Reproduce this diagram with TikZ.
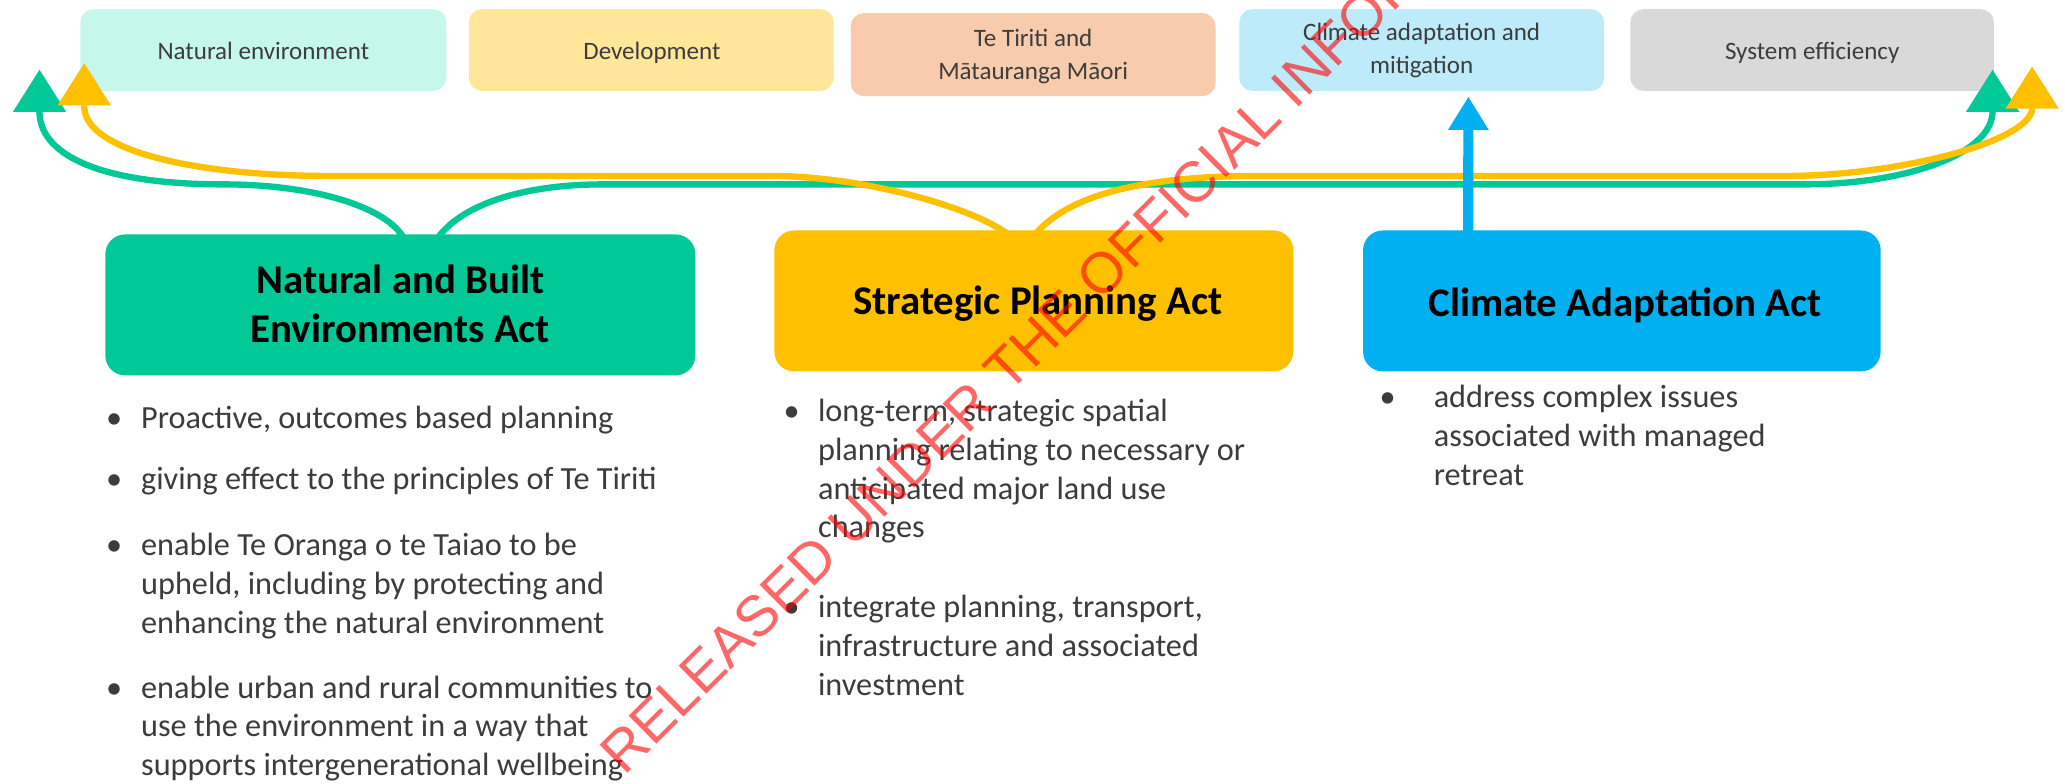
\documentclass[tikz,border=0pt]{standalone}
\usepackage{fontspec}
\setmainfont{Carlito}
\newfontfamily\wmfont{Liberation Sans}
\usetikzlibrary{arrows.meta,calc}
\definecolor{nbegreen}{HTML}{00C896}
\definecolor{spayellow}{HTML}{FFC000}
\definecolor{caablue}{HTML}{00B0F0}
\definecolor{neFill}{HTML}{C5F8EA}
\definecolor{devFill}{HTML}{FFE699}
\definecolor{ttFill}{HTML}{F8CBAD}
\definecolor{clFill}{HTML}{BDEBFA}
\definecolor{seFill}{HTML}{D9D9D9}
\definecolor{txtgray}{HTML}{3C3C3C}
\newcommand\bulitem[2]{\makebox[0pt]{\textbullet}\hspace{#1}\parbox[t]{520pt}{#2}}
\begin{document}
\begin{tikzpicture}[x=1pt,y=-1pt,
  topbox/.style={rounded corners=10pt, inner sep=0pt, minimum height=62pt, minimum width=277pt},
  actbox/.style={rounded corners=15pt, inner sep=0pt, minimum height=107pt},
  toplabel/.style={text=txtgray, font=\fontsize{19}{25}\selectfont, inner sep=0pt, anchor=base},
  acttitle/.style={text=black, font=\fontsize{31}{37}\selectfont\bfseries, inner sep=0pt, anchor=base},
  bul/.style={text=txtgray, font=\fontsize{24.5}{29.5}\selectfont, inner sep=0pt, anchor=base west},
  gline/.style={draw=nbegreen, line width=4.8pt, -{Triangle[width=40.5pt,length=32pt,line width=0pt]}},
  yline/.style={draw=spayellow, line width=4.8pt, -{Triangle[width=40.5pt,length=32pt,line width=0pt]}},
  bline/.style={draw=caablue, line width=7.7pt, -{Triangle[width=31pt,length=25pt,line width=0pt]}},
  wm/.style={anchor=base west, rotate=44.8, inner sep=0pt, font=\wmfont\fontsize{43.5}{50}\selectfont, text=red, text opacity=0.6}
]
\path[use as bounding box, fill=white] (0,0) rectangle (1568,595);

% top outcome boxes
\node[topbox, fill=neFill, minimum width=278pt] (ne) at (200,38) {};
\node[topbox, fill=devFill] (dev) at (494.5,38) {};
\node[topbox, fill=ttFill, minimum height=63pt] (tt) at (784.5,41.5) {};
\node[topbox, fill=clFill] (cl) at (1079.5,38) {};
\node[topbox, fill=seFill, minimum width=276pt] (se) at (1376,38) {};

\node[toplabel] (neT) at (200,45) {Natural environment};
\node[toplabel] (devT) at (495,45) {Development};
\node[toplabel] (ttT) at (784.5,35.5) {\parbox[t]{270pt}{\centering Te Tiriti and\\Mātauranga Māori}};
\node[toplabel] (clT) at (1079.5,30.5) {\parbox[t]{270pt}{\centering Climate adaptation and\\mitigation}};
\node[toplabel] (seT) at (1376,45) {System efficiency};

% act boxes
\node[actbox, fill=nbegreen, minimum width=448pt] (nbe) at (304,231.5) {};
\node[actbox, fill=spayellow, minimum width=394pt] (spa) at (785,228.5) {};
\node[actbox, fill=caablue, minimum width=393pt] (caa) at (1231.5,228.5) {};

\node[acttitle] (nbeT) at (304,223) {\parbox[t]{440pt}{\centering Natural and Built\\Environments Act}};
\node[acttitle] (spaT) at (788,239) {Strategic Planning Act};
\node[acttitle] (caaT) at (1234,240) {Climate Adaptation Act};

% bullets
\node[bul] (b1) at (86.5,325) {\bulitem{20.5pt}{Proactive, outcomes based planning}};
\node[bul] (b2) at (86.5,372) {\bulitem{20.5pt}{giving effect to the principles of Te Tiriti}};
\node[bul] (b3) at (86.5,422) {\bulitem{20.5pt}{enable Te Oranga o te Taiao to be\\upheld, including by protecting and\\enhancing the natural environment}};
\node[bul] (b4) at (86.5,530) {\bulitem{20.5pt}{enable urban and rural communities to\\use the environment in a way that\\supports intergenerational wellbeing}};
\node[bul] (s1) at (601,320) {\bulitem{20pt}{long-term, strategic spatial\\planning relating to necessary or\\anticipated major land use\\changes}};
\node[bul] (s2) at (601,469) {\bulitem{20pt}{integrate planning, transport,\\infrastructure and associated\\investment}};
\node[bul] (c1) at (1053.5,309.5) {\bulitem{35pt}{address complex issues\\associated with managed\\retreat}};

% arrow end points
\coordinate (gLtip) at (30,53);
\coordinate (yLtip) at (64,48);
\coordinate (gRtip) at (1513,53);
\coordinate (yRtip) at (1543,50.5);
\coordinate (bTip) at ($(cl.south)+(35.5,4.5)$);

% green connectors
\draw[gline] ($(nbe.north)+(2,2)$) .. controls +(-15,-24) and (235,140) .. (170,140)
   .. controls (70,140) and (30,115) .. (30,85) -- (gLtip);
\draw[gline] ($(nbe.north)+(29,2)$) .. controls +(20,-26) and (400,140) .. (458,140) -- (1370,140)
   .. controls (1445,140) and (1512,118) .. (1513,85) -- (gRtip);
% yellow connectors
\draw[yline] ($(spa.north)+(-21,2)$) .. controls +(-32,-22) and (650,133.6) .. (586,133.6) -- (250,133.6)
   .. controls (150,133.6) and (66,115) .. (64,82) -- (yLtip);
\draw[yline] ($(spa.north)+(2,2)$) .. controls +(23,-26) and (860,133.6) .. (955,133.6) -- (1356,133.6)
   .. controls (1440,133.6) and (1540,108) .. (1543,83) -- (yRtip);
% blue connector
\draw[bline] ($(caa.north west)+(80,2)$) -- (bTip);

% watermark
\node[wm] (wm) at (474,589.5) {RELEASED UNDER THE OFFICIAL INFORMATION ACT};
\end{tikzpicture}
\end{document}
